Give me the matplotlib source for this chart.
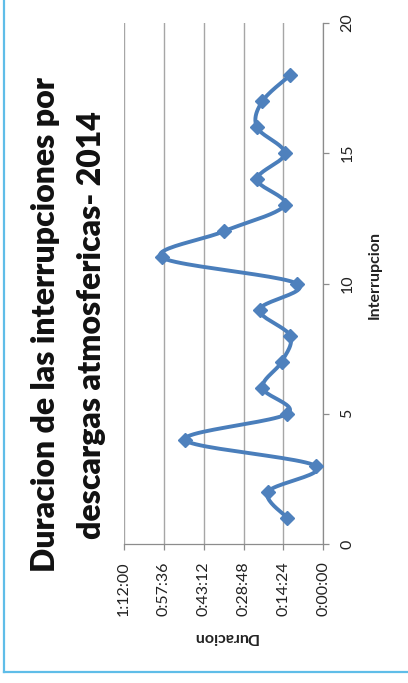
import numpy as np
import matplotlib
matplotlib.use('Agg')
import matplotlib.pyplot as plt
from matplotlib.lines import Line2D

plt.rcParams['font.family'] = ['Lato', 'DejaVu Sans']

# ---- data ----
interrupcion = list(range(1, 19))
duracion_min = [13.0, 20.0, 2.8, 50.0, 13.0, 22.0, 15.0, 12.0, 23.0, 9.6,
                58.3, 36.0, 14.0, 23.9, 13.9, 24.0, 22.0, 11.9]
dur_ticks_min = [0, 14.4, 28.8, 43.2, 57.6, 72]
dur_tick_labels = ['0:00:00', '0:14:24', '0:28:48', '0:43:12', '0:57:36', '1:12:00']
int_ticks = [0, 5, 10, 15, 20]
int_tick_labels = ['0', '5', '10', '15', '20']
title_lines = ['Duracion de las interrupciones por', 'descargas atmosfericas- 2014']
x_title = 'Interrupcion'
y_title = 'Duracion'

W, H = 408, 683
fig = plt.figure(figsize=(W / 100, H / 100), dpi=100)
fig.patch.set_facecolor('white')


def smooth(x, y, n=24):
    pts = np.column_stack([x, y]).astype(float)
    P = np.vstack([pts[0], pts, pts[-1]])
    out = []
    for i in range(1, len(P) - 2):
        p0, p1, p2, p3 = P[i - 1], P[i], P[i + 1], P[i + 2]
        c1 = p1 + (p2 - p0) / 6.0
        c2 = p2 - (p3 - p1) / 6.0
        t = np.linspace(0, 1, n)[:, None]
        b = (1 - t) ** 3 * p1 + 3 * (1 - t) ** 2 * t * c1 + 3 * (1 - t) * t ** 2 * c2 + t ** 3 * p2
        out.append(b if i == 1 else b[1:])
    return np.vstack(out)


ax = fig.add_axes([124 / W, 1 - 544 / H, (323.3 - 124) / W, (544 - 23) / H])
curve = smooth(interrupcion, duracion_min)
line_col = '#4A7EBB'
ax.plot(curve[:, 1], curve[:, 0], color=line_col, lw=2.8, solid_capstyle='round',
        solid_joinstyle='round', zorder=3)
ax.plot(duracion_min, interrupcion, linestyle='none', marker='D', ms=7.5,
        color='#4F81BD', markeredgecolor='#4F81BD', zorder=4)

ax.set_xlim(72, 0)
ax.set_ylim(0, 20)
ax.set_xticks(dur_ticks_min)
ax.set_xticklabels(dur_tick_labels, rotation=90, fontsize=11.5, color='#222222')
ax.yaxis.tick_right()
ax.set_yticks(int_ticks)
ax.set_yticklabels(int_tick_labels, rotation=90, va='center', fontsize=11.5, color='#222222')

grey = '#8C8C8C'
for s in ['left', 'top']:
    ax.spines[s].set_visible(False)
for s in ['bottom', 'right']:
    ax.spines[s].set_color(grey)
    ax.spines[s].set_linewidth(0.9)
ax.xaxis.grid(True, color='#A6A6A6', lw=1.0)
ax.set_axisbelow(True)
ax.tick_params(axis='x', direction='out', length=4.3, width=0.9, color=grey, pad=8)
ax.tick_params(axis='y', direction='out', length=4.3, width=0.9, color=grey, pad=8)

fig.text(225 / W, 1 - 637 / H, y_title, rotation=180, ha='center', va='center',
         fontsize=11.5, fontweight='bold', color='#222222')
fig.text(375 / W, 1 - 275 / H, x_title, rotation=90, ha='center', va='center',
         fontsize=11.5, fontweight='bold', color='#222222')

fig.text(46 / W, 1 - 325 / H, title_lines[0], rotation=90, ha='center', va='center',
         fontsize=23, fontweight='heavy', color='#111111')
fig.text(92 / W, 1 - 325 / H, title_lines[1], rotation=90, ha='center', va='center',
         fontsize=23, fontweight='heavy', color='#111111')

border = '#5FBDE8'
fig.add_artist(Line2D([4 / W, 4 / W], [1 - 672 / H, 1.0], transform=fig.transFigure,
                      color=border, lw=1.6))
fig.add_artist(Line2D([4 / W, 1.0], [1 - 672 / H, 1 - 672 / H], transform=fig.transFigure,
                      color=border, lw=1.6))

fig.savefig('out.png', dpi=100)
